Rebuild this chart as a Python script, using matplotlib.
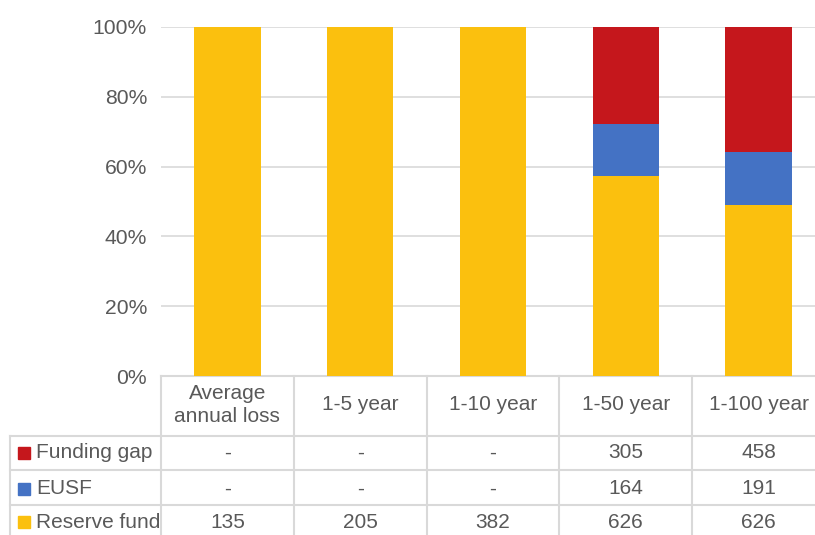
import matplotlib
matplotlib.use("Agg")
import matplotlib.pyplot as plt
from matplotlib.lines import Line2D
from matplotlib.patches import Rectangle
import numpy as np

categories = ["Average\nannual loss", "1-5 year", "1-10 year", "1-50 year", "1-100 year"]
reserve_fund = [135, 205, 382, 626, 626]
eusf = [0, 0, 0, 164, 191]
funding_gap = [0, 0, 0, 305, 458]
series_names = ["Funding gap", "EUSF", "Reserve fund"]
colors = {"Reserve fund": "#FBC00E", "EUSF": "#4472C4", "Funding gap": "#C5171C"}

plt.rcParams['font.family'] = ['Liberation Sans', 'DejaVu Sans']
txt = "#595959"
grid = "#D9D9D9"

fig = plt.figure(figsize=(8.15, 5.35), dpi=100)
W, H = 815, 535
left_px, right_px, top_px, bot_px = 161, 825, 27, 376
ax = fig.add_axes([left_px / W, 1 - bot_px / H, (right_px - left_px) / W, (bot_px - top_px) / H])

rf = np.array(reserve_fund, float)
eu = np.array(eusf, float)
fg = np.array(funding_gap, float)
tot = rf + eu + fg
x = np.arange(len(categories))
w = 0.5
ax.bar(x, rf / tot, w, color=colors["Reserve fund"], zorder=3)
ax.bar(x, eu / tot, w, bottom=rf / tot, color=colors["EUSF"], zorder=3)
ax.bar(x, fg / tot, w, bottom=(rf + eu) / tot, color=colors["Funding gap"], zorder=3)

ax.set_xlim(-0.5, len(categories) - 0.5)
ax.set_ylim(0, 1)
ax.set_yticks(np.linspace(0, 1, 6))
ax.set_yticklabels([f"{int(v*100)}%" for v in np.linspace(0, 1, 6)], color=txt, fontsize=15.2)
ax.tick_params(axis='y', length=0, pad=10)
ax.set_xticks([])
ax.yaxis.grid(True, color=grid, lw=1.2, zorder=0)
for s in ["top", "right", "left"]:
    ax.spines[s].set_visible(False)
ax.spines["bottom"].set_color(grid)
ax.spines["bottom"].set_linewidth(1.5)

# data table
ph = bot_px - top_px
def yax(py):
    return (bot_px - py) / ph
pxw = (right_px - left_px) / len(categories)
def xd(px):
    return (px - left_px) / pxw - 0.5

tr = ax.get_xaxis_transform()  # x data, y axes
row_lines = [436, 470, 505]
table_bottom = 545
x_left = xd(10)
lkw = dict(color=grid, lw=1.5, transform=tr, clip_on=False)
for py in row_lines:
    ax.add_line(Line2D([x_left, len(categories) - 0.5], [yax(py)] * 2, **lkw))
for i in range(len(categories) + 1):
    ax.add_line(Line2D([i - 0.5] * 2, [0, yax(table_bottom)], **lkw))
ax.add_line(Line2D([x_left] * 2, [yax(436), yax(table_bottom)], **lkw))

fs = 15
for i, c in enumerate(categories):
    ax.text(i, yax(405), c, ha='center', va='center', color=txt, fontsize=fs,
            transform=tr, linespacing=1.3)

rows = {"Funding gap": funding_gap, "EUSF": eusf, "Reserve fund": reserve_fund}
row_centers = [453, 489, 522]
for name, pyc in zip(series_names, row_centers):
    vals = rows[name]
    ax.add_patch(Rectangle((xd(18), yax(pyc + 6)), xd(30) - xd(18), yax(pyc - 6) - yax(pyc + 6),
                           transform=tr, color=colors[name], clip_on=False))
    ax.text(xd(36), yax(pyc), name, ha='left', va='center', color=txt, fontsize=fs, transform=tr)
    for i, v in enumerate(vals):
        ax.text(i, yax(pyc), "-" if v == 0 else str(v), ha='center', va='center',
                color=txt, fontsize=fs, transform=tr)

fig.savefig("out.png", dpi=100)
